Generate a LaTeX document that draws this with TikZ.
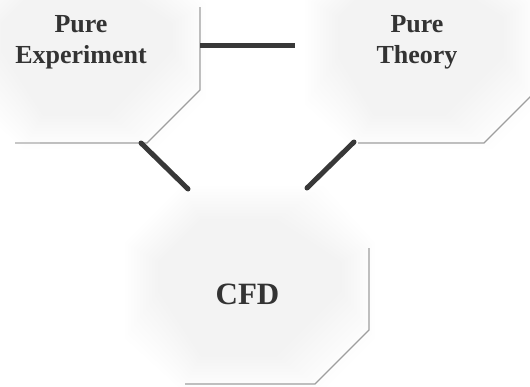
\documentclass[tikz,border=0pt]{standalone}
\usepackage{fontspec}
\setmainfont{Liberation Serif}
\begin{document}
% octagon outline: left, top, right, bottom, corner cut (y grows downwards)
\newcommand\octagonpath[5]{(#1+#5,#2) -- (#3-#5,#2) -- (#3,#2+#5) -- (#3,#4-#5) -- (#3-#5,#4) -- (#1+#5,#4) -- (#1,#4-#5) -- (#1,#2+#5) -- cycle}
% soft body: nested octagons, each inset a little further and faintly filled
\newcommand\softoctagon[5]{%
  \foreach \d in {-6,-3,...,27} {
    \path[layer] \octagonpath{#1+\d}{#2+\d}{#3-\d}{#4-\d}{#5-0.41*\d};
  }}
\begin{tikzpicture}[x=1pt,y=-1pt,
  layer/.style={fill=black, fill opacity=0.0045},
  rim/.style={draw=black!38, line width=1.3pt, line join=miter},
  bar/.style={draw=black!78, line width=5pt, line cap=round},
  label/.style={text=black!80, align=center, inner sep=0pt}]
  \useasboundingbox (0,0) rectangle (530,386);
  \fill[white] (0,0) rectangle (530,386);
  \begin{scope}
    \clip (0,0) rectangle (530,386);
    % soft grey bodies of the three octagons
    \softoctagon{-26}{-46}{200}{143}{53}
    \softoctagon{311}{-46}{531}{143}{47}
    \softoctagon{131}{192}{369}{384}{54}
    % lower right rims
    \draw[rim] (200,7) -- (200,90) -- (147,143) -- (40,143);
    \draw[rim, draw=black!22] (40,143) -- (15,143);
    \draw[rim] (531,96) -- (484,143) -- (358,143);
    \draw[rim] (369,248) -- (369,330) -- (315,384) -- (185,384);
  \end{scope}
  % labels
  \node[label, font=\bfseries\fontsize{26}{31}\selectfont] (exp) at (81,42) {Pure\\Experiment};
  \node[label, font=\bfseries\fontsize{26}{31}\selectfont] (theo) at (417,42) {Pure\\Theory};
  \node[label, font=\bfseries\fontsize{31}{36}\selectfont] (cfd) at (247.5,294) {CFD};
  % connection points
  \coordinate (exp-e) at (200,45);
  \coordinate (theo-w) at (295,45);
  \coordinate (exp-se) at (141,143);
  \coordinate (cfd-nw) at (188,189);
  \coordinate (theo-sw) at (354,142);
  \coordinate (cfd-ne) at (307,188);
  % links
  \draw[bar, line cap=butt] (exp-e) -- (theo-w);
  \draw[bar] (exp-se) -- (cfd-nw);
  \draw[bar] (theo-sw) -- (cfd-ne);
\end{tikzpicture}
\end{document}
